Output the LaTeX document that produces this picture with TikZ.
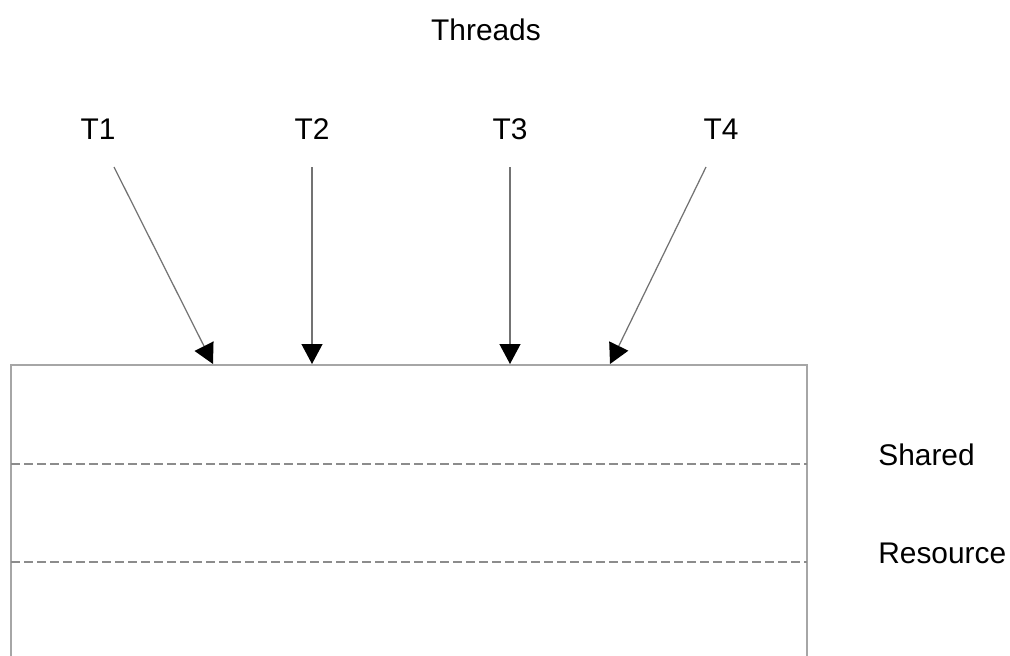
\documentclass[tikz,border=0pt]{standalone}
\usepackage{fontspec}
\setmainfont{Liberation Sans}
\usepackage{tikz}
\usetikzlibrary{arrows.meta, positioning}

\begin{document}
\begin{tikzpicture}[
  x=0.2mm, y=-0.2mm,
  lbl/.style={font=\fontsize{17}{20}\selectfont, inner sep=0pt},
  flow/.style={draw=black!55, line width=0.25mm, -{Triangle[black, length=4mm, width=4.2mm]}},
  boxline/.style={draw=black!35, line width=0.4mm},
  divider/.style={draw=black!45, line width=0.25mm, dash pattern=on 1.8mm off 0.8mm}
]
  \useasboundingbox (0,0) rectangle (1010,656);

  %---------------- LABELS ----------------%
  \node[lbl] (threads) at (486,30) {Threads};
  \node[lbl] (t1) at (98,129) {T1};
  \node[lbl] (t2) at (312,129) {T2};
  \node[lbl] (t3) at (510,129) {T3};
  \node[lbl] (t4) at (721,129) {T4};
  \node[lbl, anchor=west] (shared) at (878,455) {Shared};
  \node[lbl, anchor=west] (resource) at (878,553) {Resource};

  %---------------- RESOURCE BOX ----------------%
  \coordinate (bl) at (11,656);
  \coordinate (tl) at (11,365);
  \coordinate (tr) at (807,365);
  \coordinate (br) at (807,656);
  \draw[boxline] (bl) -- (tl) -- (tr) -- (br);
  \draw[divider] (11,464) -- (807,464);
  \draw[divider] (11,562) -- (807,562);

  %---------------- ARROWS ----------------%
  \coordinate (s1) at (114,167);
  \coordinate (s2) at (312,167);
  \coordinate (s3) at (510,167);
  \coordinate (s4) at (706,167);
  \coordinate (e1) at (213,364);
  \coordinate (e2) at (312,364);
  \coordinate (e3) at (510,364);
  \coordinate (e4) at (610,364);
  \draw[flow] (s1) -- (e1);
  \draw[flow] (s2) -- (e2);
  \draw[flow] (s3) -- (e3);
  \draw[flow] (s4) -- (e4);

\end{tikzpicture}
\end{document}
